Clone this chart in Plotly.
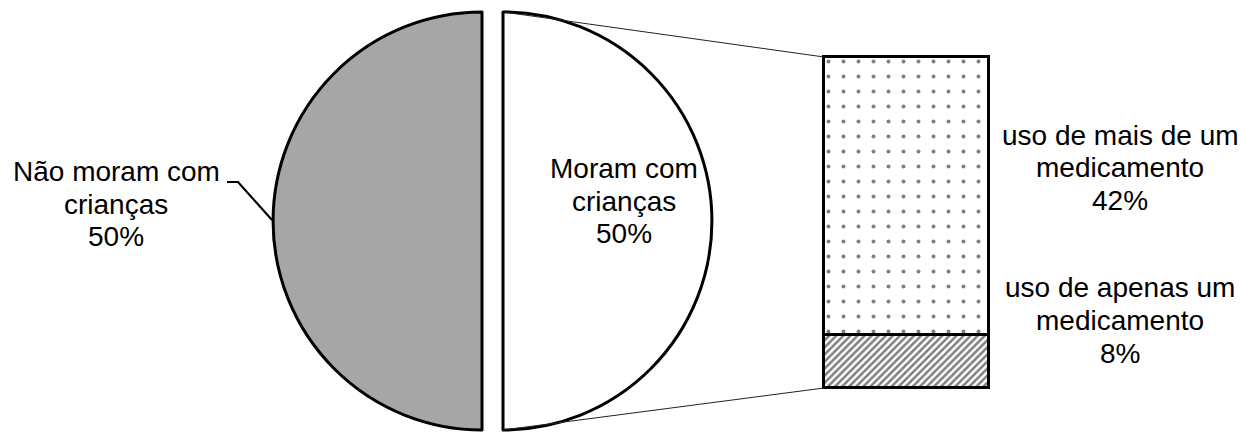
import plotly.graph_objects as go

W, H = 1241, 433

# Households: with / without children
groups = ["Não moram com crianças", "Moram com crianças"]
group_share = [50, 50]

# Breakdown of the "Moram com crianças" slice
subgroups = ["uso de apenas um medicamento", "uso de mais de um medicamento"]
subgroup_share = [8, 42]

# ---- layout geometry (pixels) ----
R = 209                 # pie radius
CY = 221                # pie centre (vertical)
LEFT_CX, RIGHT_CX = 482, 503
BAR_L, BAR_R = 824, 989
BAR_T, BAR_B = 57, 388
PAD = 3                 # room so the bar outline is not clipped

GRAY = "#A6A6A6"
CLEAR = "rgba(0,0,0,0)"
FONT = dict(family="Liberation Sans, Arial, sans-serif", size=28, color="black")


def fx(x):
    return x / W


def fy(y):
    return (H - y) / H


def pie_domain(cx):
    return dict(x=[fx(cx - R), fx(cx + R)], y=[fy(CY + R), fy(CY - R)])


fig = go.Figure()

# left half: gray slice, other slice hidden (first slice starts at 6 o'clock)
fig.add_trace(go.Pie(
    labels=groups, values=group_share, sort=False,
    direction="clockwise", rotation=180,
    marker=dict(colors=[GRAY, CLEAR], line=dict(color=["black", CLEAR], width=3)),
    textinfo="none", hoverinfo="label+percent", showlegend=False,
    domain=pie_domain(LEFT_CX),
))
# right half: white slice, other slice hidden
fig.add_trace(go.Pie(
    labels=groups, values=group_share, sort=False,
    direction="clockwise", rotation=180,
    marker=dict(colors=[CLEAR, "white"], line=dict(color=[CLEAR, "black"], width=3)),
    textinfo="none", hoverinfo="label+percent", showlegend=False,
    domain=pie_domain(RIGHT_CX),
))

# stacked bar for the breakdown
patterns = [dict(shape="/", size=5, solidity=0.5, fgcolor="black", bgcolor="white"),
            dict(shape=".", size=15, solidity=0.055, fgcolor="black", bgcolor="white")]
for name, val, pat in zip(subgroups, subgroup_share, patterns):
    fig.add_trace(go.Bar(
        x=[0], y=[val], name=name, width=1, showlegend=False,
        marker=dict(color="white", pattern=pat, line=dict(color="black", width=3)),
        hoverinfo="name+y",
    ))

total = sum(subgroup_share)
bar_w_px = BAR_R - BAR_L
bar_h_px = BAR_B - BAR_T
fig.update_xaxes(visible=False, domain=[fx(BAR_L - PAD), fx(BAR_R + PAD)],
                 range=[-0.5 - PAD / bar_w_px, 0.5 + PAD / bar_w_px], fixedrange=True)
fig.update_yaxes(visible=False, domain=[fy(BAR_B + PAD), fy(BAR_T - PAD)],
                 range=[-PAD * total / bar_h_px, total + PAD * total / bar_h_px], fixedrange=True)

# connector lines from the right half to the bar
shapes = [
    dict(type="line", xref="paper", yref="paper",
         x0=fx(RIGHT_CX), y0=fy(CY - R), x1=fx(BAR_L), y1=fy(BAR_T),
         line=dict(color="#222", width=1)),
    dict(type="line", xref="paper", yref="paper",
         x0=fx(RIGHT_CX), y0=fy(CY + R), x1=fx(BAR_L), y1=fy(BAR_B),
         line=dict(color="#222", width=1)),
    # leader line for the left label
    dict(type="path", xref="paper", yref="paper",
         path=f"M {fx(227)},{fy(182)} L {fx(238)},{fy(182)} L {fx(272)},{fy(220)}",
         line=dict(color="black", width=2.2)),
]


def label_lines(name, value):
    head, tail = name.rsplit(" ", 1)
    return [head, tail, f"{value}%"]


annotations = []


def add_label(lines, cx, y_first, pitch):
    for i, t in enumerate(lines):
        annotations.append(dict(
            text=t, x=fx(cx), y=fy(y_first + i * pitch), xref="paper", yref="paper",
            xanchor="center", yanchor="middle", showarrow=False, font=FONT,
        ))


add_label(label_lines(groups[0], group_share[0]), 116, 172, 32)
add_label(label_lines(groups[1], group_share[1]), 624, 168, 33)
add_label(label_lines(subgroups[1], subgroup_share[1]), 1120, 135, 32.5)
add_label(label_lines(subgroups[0], subgroup_share[0]), 1120, 287, 33)

fig.update_layout(
    width=W, height=H, margin=dict(l=0, r=0, t=0, b=0),
    paper_bgcolor="white", plot_bgcolor="white",
    barmode="stack", bargap=0, shapes=shapes, annotations=annotations,
    showlegend=False,
)

fig.write_html("out.html")
